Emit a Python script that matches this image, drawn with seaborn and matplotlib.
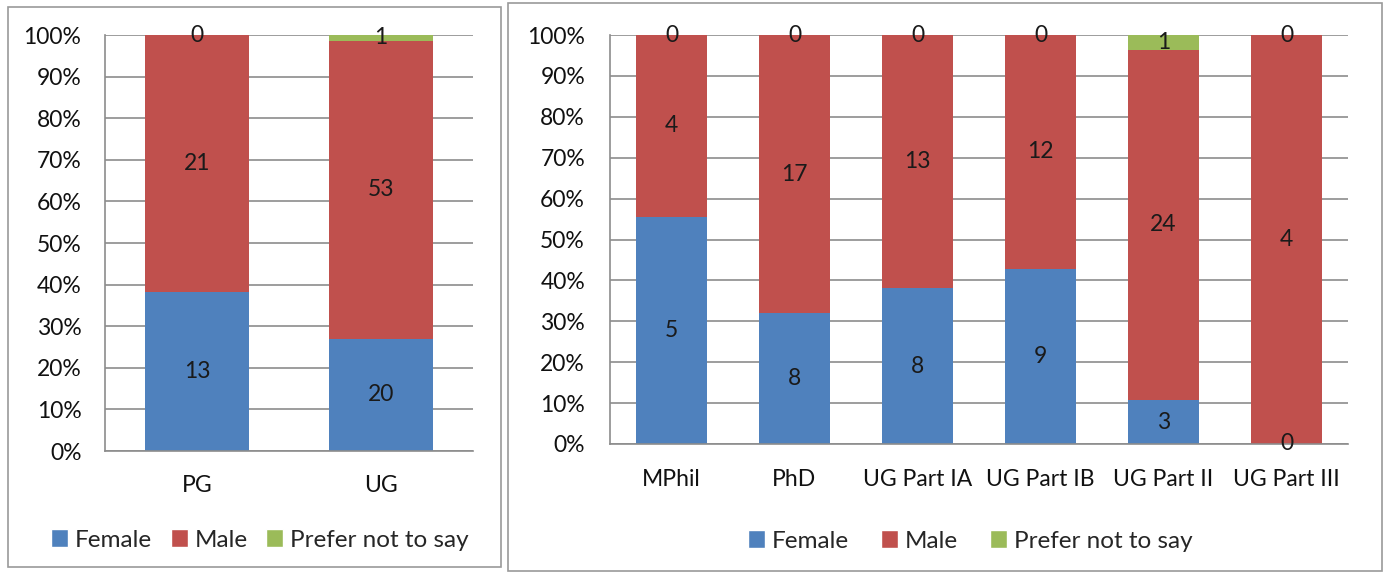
import pandas as pd
import seaborn as sns
import matplotlib.pyplot as plt
from matplotlib.patches import Rectangle, Patch

# left panel: PG vs UG
level_cats = ["PG", "UG"]
level_female = [13, 20]
level_male = [21, 53]
level_prefer = [0, 1]

# right panel: by course/year
year_cats = ["MPhil", "PhD", "UG Part IA", "UG Part IB", "UG Part II", "UG Part III"]
year_female = [5, 8, 8, 9, 3, 0]
year_male = [4, 17, 13, 12, 24, 4]
year_prefer = [0, 0, 0, 0, 1, 0]

groups = ["Female", "Male", "Prefer not to say"]
colors = {"Female": "#4F81BD", "Male": "#C0504D", "Prefer not to say": "#9BBB59"}
grid_col = "#8C8C8C"
FONT = ["Lato", "DejaVu Sans"]
FS = 16.5


def make_frame(cats, female, male, prefer):
    df = pd.DataFrame({"cat": cats, "Female": female, "Male": male,
                       "Prefer not to say": prefer})
    total = df[groups].sum(axis=1)
    for g in groups:
        df[g + "_pct"] = df[g] / total * 100
    return df


def stacked(ax, df, width, xpad, ypad):
    bottom = pd.Series(0.0, index=df.index)
    for g in groups:
        sns.barplot(data=df, x="cat", y=g + "_pct", color=colors[g], width=width,
                    bottom=bottom.values, saturation=1, ax=ax, linewidth=0,
                    order=list(df["cat"]))
        for i, row in df.iterrows():
            h = row[g + "_pct"]
            ax.text(i, bottom[i] + h / 2, str(int(row[g])), ha="center", va="center",
                    fontsize=FS, color="#1a1a1a", family=FONT, zorder=5)
        bottom = bottom + df[g + "_pct"]

    ax.set_ylim(0, 100)
    ax.set_xlim(-0.5, len(df) - 0.5)
    ax.set_yticks(range(0, 101, 10))
    ax.set_yticklabels([f"{v}%" for v in range(0, 101, 10)], family=FONT)
    ax.set_xticks(range(len(df)))
    ax.set_xticklabels(df["cat"], family=FONT)
    ax.tick_params(axis="y", length=0, pad=ypad, labelsize=FS, colors="#111111")
    ax.tick_params(axis="x", length=0, pad=xpad, labelsize=FS, colors="#111111")
    ax.set_xlabel("")
    ax.set_ylabel("")
    ax.grid(axis="y", color=grid_col, linewidth=1.2)
    ax.grid(axis="x", visible=False)
    ax.set_axisbelow(True)
    for side in ["top", "right"]:
        ax.spines[side].set_visible(False)
    for side in ["left", "bottom"]:
        ax.spines[side].set_color(grid_col)
        ax.spines[side].set_linewidth(1.2)


sns.set_style("white")
plt.rcParams["font.family"] = FONT

fig = plt.figure(figsize=(13.86, 5.73), dpi=100)
W, H = 1386, 573

# panel borders
fig.patches.append(Rectangle((8 / W, 1 - 567 / H), 493 / W, 560 / H, transform=fig.transFigure,
                             fill=False, edgecolor="#9a9a9a", linewidth=1.2))
fig.patches.append(Rectangle((508 / W, 1 - 571 / H), 874 / W, 568 / H, transform=fig.transFigure,
                             fill=False, edgecolor="#9a9a9a", linewidth=1.2))

ax1 = fig.add_axes([105 / W, 1 - 451 / H, 368 / W, 416 / H])
ax2 = fig.add_axes([610 / W, 1 - 444 / H, 738 / W, 409 / H])

stacked(ax1, make_frame(level_cats, level_female, level_male, level_prefer), 0.565, 17, 17)
stacked(ax2, make_frame(year_cats, year_female, year_male, year_prefer), 0.57, 18, 18)

handles = [Patch(facecolor=colors[g], label=g) for g in groups]
# left legend is packed tighter than the right one
for cx, cy, cs in [(260 / W, 1 - 540 / H, 0.75), (970 / W, 1 - 541 / H, 1.3)]:
    fig.legend(handles=handles, loc="center", bbox_to_anchor=(cx, cy), ncol=3,
               frameon=False, fontsize=17.5, handlelength=0.7, handleheight=0.7,
               handletextpad=0.3, columnspacing=cs)

fig.savefig("out.png", dpi=100)
